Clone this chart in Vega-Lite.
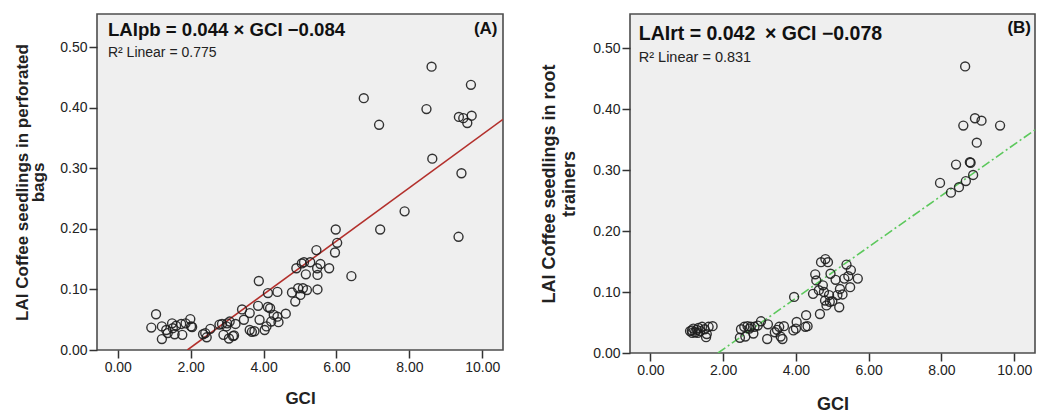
{
  "$schema": "https://vega.github.io/schema/vega-lite/v6.json",
  "background": "white",
  "padding": {"left": 12, "top": 13, "right": 5, "bottom": 2},
  "bounds": "flush",
  "spacing": 127,
  "datasets": {
    "A": [
      {"gci": 0.92, "lai": 0.037}, {"gci": 1.05, "lai": 0.059}, {"gci": 1.21, "lai": 0.039}, {"gci": 1.21, "lai": 0.018},
      {"gci": 1.33, "lai": 0.033}, {"gci": 1.37, "lai": 0.028}, {"gci": 1.49, "lai": 0.044}, {"gci": 1.51, "lai": 0.036},
      {"gci": 1.56, "lai": 0.026}, {"gci": 1.6, "lai": 0.04}, {"gci": 1.74, "lai": 0.043}, {"gci": 1.77, "lai": 0.025},
      {"gci": 1.86, "lai": 0.044}, {"gci": 1.99, "lai": 0.051}, {"gci": 2.01, "lai": 0.039}, {"gci": 2.04, "lai": 0.038},
      {"gci": 2.34, "lai": 0.026}, {"gci": 2.4, "lai": 0.028}, {"gci": 2.44, "lai": 0.021}, {"gci": 2.54, "lai": 0.035},
      {"gci": 2.79, "lai": 0.042}, {"gci": 2.86, "lai": 0.043}, {"gci": 2.9, "lai": 0.025}, {"gci": 2.98, "lai": 0.039},
      {"gci": 3.0, "lai": 0.044}, {"gci": 3.05, "lai": 0.019}, {"gci": 3.07, "lai": 0.047}, {"gci": 3.16, "lai": 0.023},
      {"gci": 3.19, "lai": 0.024}, {"gci": 3.23, "lai": 0.043}, {"gci": 3.41, "lai": 0.067}, {"gci": 3.46, "lai": 0.05},
      {"gci": 3.62, "lai": 0.061}, {"gci": 3.62, "lai": 0.033}, {"gci": 3.68, "lai": 0.03}, {"gci": 3.75, "lai": 0.031},
      {"gci": 3.85, "lai": 0.073}, {"gci": 3.87, "lai": 0.114}, {"gci": 3.89, "lai": 0.05}, {"gci": 4.03, "lai": 0.033},
      {"gci": 4.08, "lai": 0.039}, {"gci": 4.12, "lai": 0.094}, {"gci": 4.12, "lai": 0.071}, {"gci": 4.18, "lai": 0.069},
      {"gci": 4.21, "lai": 0.047}, {"gci": 4.28, "lai": 0.058}, {"gci": 4.38, "lai": 0.096}, {"gci": 4.38, "lai": 0.055},
      {"gci": 4.41, "lai": 0.046}, {"gci": 4.61, "lai": 0.06}, {"gci": 4.78, "lai": 0.095}, {"gci": 4.87, "lai": 0.08},
      {"gci": 4.9, "lai": 0.135}, {"gci": 4.95, "lai": 0.102}, {"gci": 5.01, "lai": 0.091}, {"gci": 5.05, "lai": 0.143},
      {"gci": 5.08, "lai": 0.102}, {"gci": 5.11, "lai": 0.145}, {"gci": 5.16, "lai": 0.125}, {"gci": 5.19, "lai": 0.099},
      {"gci": 5.28, "lai": 0.145}, {"gci": 5.45, "lai": 0.165}, {"gci": 5.47, "lai": 0.135}, {"gci": 5.48, "lai": 0.124},
      {"gci": 5.48, "lai": 0.1}, {"gci": 5.56, "lai": 0.142}, {"gci": 5.8, "lai": 0.135}, {"gci": 5.96, "lai": 0.161},
      {"gci": 5.98, "lai": 0.199}, {"gci": 6.02, "lai": 0.177}, {"gci": 6.41, "lai": 0.122}, {"gci": 7.2, "lai": 0.199},
      {"gci": 7.87, "lai": 0.229}, {"gci": 9.35, "lai": 0.187}, {"gci": 6.75, "lai": 0.416}, {"gci": 7.17, "lai": 0.372},
      {"gci": 8.47, "lai": 0.398}, {"gci": 8.61, "lai": 0.468}, {"gci": 8.63, "lai": 0.316}, {"gci": 9.43, "lai": 0.292},
      {"gci": 9.36, "lai": 0.385}, {"gci": 9.48, "lai": 0.383}, {"gci": 9.59, "lai": 0.375}, {"gci": 9.71, "lai": 0.387},
      {"gci": 9.69, "lai": 0.438}
    ],
    "B": [
      {"gci": 1.09, "lai": 0.036}, {"gci": 1.14, "lai": 0.037}, {"gci": 1.15, "lai": 0.033}, {"gci": 1.18, "lai": 0.04},
      {"gci": 1.23, "lai": 0.034}, {"gci": 1.28, "lai": 0.038}, {"gci": 1.3, "lai": 0.033}, {"gci": 1.32, "lai": 0.041},
      {"gci": 1.37, "lai": 0.036}, {"gci": 1.42, "lai": 0.043}, {"gci": 1.49, "lai": 0.039}, {"gci": 1.53, "lai": 0.026},
      {"gci": 1.55, "lai": 0.031}, {"gci": 1.6, "lai": 0.043}, {"gci": 1.71, "lai": 0.044},
      {"gci": 2.46, "lai": 0.025}, {"gci": 2.49, "lai": 0.039}, {"gci": 2.58, "lai": 0.043}, {"gci": 2.61, "lai": 0.027},
      {"gci": 2.67, "lai": 0.044}, {"gci": 2.72, "lai": 0.04}, {"gci": 2.76, "lai": 0.043}, {"gci": 2.83, "lai": 0.032},
      {"gci": 2.86, "lai": 0.043}, {"gci": 2.95, "lai": 0.045}, {"gci": 3.04, "lai": 0.052}, {"gci": 3.23, "lai": 0.047},
      {"gci": 3.21, "lai": 0.023}, {"gci": 3.42, "lai": 0.034}, {"gci": 3.48, "lai": 0.038}, {"gci": 3.54, "lai": 0.043},
      {"gci": 3.58, "lai": 0.027}, {"gci": 3.63, "lai": 0.023}, {"gci": 3.67, "lai": 0.044}, {"gci": 3.93, "lai": 0.037},
      {"gci": 4.0, "lai": 0.04}, {"gci": 3.95, "lai": 0.092}, {"gci": 4.02, "lai": 0.051}, {"gci": 4.26, "lai": 0.043},
      {"gci": 4.28, "lai": 0.062}, {"gci": 4.32, "lai": 0.044}, {"gci": 4.66, "lai": 0.064}, {"gci": 4.47, "lai": 0.097},
      {"gci": 4.53, "lai": 0.129}, {"gci": 4.56, "lai": 0.119}, {"gci": 4.63, "lai": 0.103}, {"gci": 4.69, "lai": 0.149},
      {"gci": 4.74, "lai": 0.111}, {"gci": 4.77, "lai": 0.1}, {"gci": 4.8, "lai": 0.086}, {"gci": 4.81, "lai": 0.154},
      {"gci": 4.84, "lai": 0.078}, {"gci": 4.88, "lai": 0.149}, {"gci": 4.91, "lai": 0.095}, {"gci": 4.93, "lai": 0.084},
      {"gci": 4.95, "lai": 0.13}, {"gci": 5.0, "lai": 0.085}, {"gci": 5.09, "lai": 0.12}, {"gci": 5.14, "lai": 0.095},
      {"gci": 5.19, "lai": 0.075}, {"gci": 5.21, "lai": 0.105}, {"gci": 5.28, "lai": 0.096}, {"gci": 5.39, "lai": 0.145},
      {"gci": 5.44, "lai": 0.126}, {"gci": 5.49, "lai": 0.108}, {"gci": 5.51, "lai": 0.136}, {"gci": 5.7, "lai": 0.122},
      {"gci": 5.33, "lai": 0.122},
      {"gci": 8.65, "lai": 0.47}, {"gci": 8.6, "lai": 0.373}, {"gci": 8.92, "lai": 0.385}, {"gci": 9.1, "lai": 0.381},
      {"gci": 9.61, "lai": 0.373}, {"gci": 8.97, "lai": 0.345}, {"gci": 8.78, "lai": 0.313}, {"gci": 8.8, "lai": 0.312},
      {"gci": 8.4, "lai": 0.309}, {"gci": 8.87, "lai": 0.292}, {"gci": 8.67, "lai": 0.282}, {"gci": 7.96, "lai": 0.279},
      {"gci": 8.48, "lai": 0.272}, {"gci": 8.26, "lai": 0.263}
    ],
    "lineA": [{"gci": 1.91, "lai": 0.0}, {"gci": 10.57, "lai": 0.381}],
    "lineB": [{"gci": 1.857, "lai": 0.0}, {"gci": 10.57, "lai": 0.366}],
    "labelsA": [{"eq": "LAIpb = 0.044 × GCI −0.084", "r2": "R² Linear = 0.775", "tag": "(A)"}],
    "labelsB": [{"eq": "LAIrt = 0.042\u2002× GCI −0.078", "r2": "R² Linear = 0.831", "tag": "(B)"}]
  },
  "hconcat": [
    {
      "width": 406,
      "height": 336,
      "layer": [
        {"data": {"name": "lineA"}, "mark": {"type": "line", "color": "#b3302c", "strokeWidth": 1.6, "clip": true},
         "encoding": {
           "x": {"field": "gci", "type": "quantitative", "scale": {"domain": [-0.57, 10.57], "nice": false, "zero": false},
                 "axis": {"title": "GCI", "values": [0, 2, 4, 6, 8, 10], "format": ".2f", "titlePadding": 16}},
           "y": {"field": "lai", "type": "quantitative", "scale": {"domain": [0, 0.555], "nice": false},
                 "axis": {"title": ["LAI Coffee seedlings in perforated", "bags"], "values": [0, 0.1, 0.2, 0.3, 0.4, 0.5], "format": ".2f", "titlePadding": 12, "titleLineHeight": 16}}
         }},
        {"data": {"name": "A"}, "mark": {"type": "point", "shape": "circle", "filled": false, "stroke": "#1e1e1e", "strokeWidth": 1.4, "size": 80, "opacity": 0.9},
         "encoding": {"x": {"field": "gci", "type": "quantitative"}, "y": {"field": "lai", "type": "quantitative"}}},
        {"data": {"name": "labelsA"}, "mark": {"type": "text", "align": "left", "baseline": "alphabetic", "fontSize": 18.6, "fontWeight": "bold", "color": "#111"},
         "encoding": {"x": {"datum": -0.27, "type": "quantitative"}, "y": {"datum": 0.519, "type": "quantitative"}, "text": {"field": "eq", "type": "nominal"}}},
        {"data": {"name": "labelsA"}, "mark": {"type": "text", "align": "left", "baseline": "alphabetic", "fontSize": 14, "color": "#222"},
         "encoding": {"x": {"datum": -0.27, "type": "quantitative"}, "y": {"datum": 0.484, "type": "quantitative"}, "text": {"field": "r2", "type": "nominal"}}},
        {"data": {"name": "labelsA"}, "mark": {"type": "text", "align": "right", "baseline": "alphabetic", "fontSize": 17, "fontWeight": "bold", "color": "#111"},
         "encoding": {"x": {"datum": 10.42, "type": "quantitative"}, "y": {"datum": 0.522, "type": "quantitative"}, "text": {"field": "tag", "type": "nominal"}}}
      ]
    },
    {
      "width": 405,
      "height": 339,
      "layer": [
        {"data": {"name": "lineB"}, "mark": {"type": "line", "color": "#5cc85c", "strokeWidth": 1.6, "strokeDash": [9, 3, 2, 3], "clip": true},
         "encoding": {
           "x": {"field": "gci", "type": "quantitative", "scale": {"domain": [-0.56, 10.57], "nice": false, "zero": false},
                 "axis": {"title": "GCI", "values": [0, 2, 4, 6, 8, 10], "format": ".2f", "titlePadding": 18, "titleFontSize": 18}},
           "y": {"field": "lai", "type": "quantitative", "scale": {"domain": [0, 0.556], "nice": false},
                 "axis": {"title": ["LAI Coffee seedlings in root", "trainers"], "values": [0, 0.1, 0.2, 0.3, 0.4, 0.5], "format": ".2f", "titlePadding": 14, "titleLineHeight": 20, "titleFontSize": 18}}
         }},
        {"data": {"name": "B"}, "mark": {"type": "point", "shape": "circle", "filled": false, "stroke": "#1e1e1e", "strokeWidth": 1.4, "size": 80, "opacity": 0.9},
         "encoding": {"x": {"field": "gci", "type": "quantitative"}, "y": {"field": "lai", "type": "quantitative"}}},
        {"data": {"name": "labelsB"}, "mark": {"type": "text", "align": "left", "baseline": "alphabetic", "fontSize": 19.5, "fontWeight": "bold", "color": "#111"},
         "encoding": {"x": {"datum": -0.32, "type": "quantitative"}, "y": {"datum": 0.513, "type": "quantitative"}, "text": {"field": "eq", "type": "nominal"}}},
        {"data": {"name": "labelsB"}, "mark": {"type": "text", "align": "left", "baseline": "alphabetic", "fontSize": 14.5, "color": "#222"},
         "encoding": {"x": {"datum": -0.32, "type": "quantitative"}, "y": {"datum": 0.477, "type": "quantitative"}, "text": {"field": "r2", "type": "nominal"}}},
        {"data": {"name": "labelsB"}, "mark": {"type": "text", "align": "right", "baseline": "alphabetic", "fontSize": 17, "fontWeight": "bold", "color": "#111"},
         "encoding": {"x": {"datum": 10.46, "type": "quantitative"}, "y": {"datum": 0.525, "type": "quantitative"}, "text": {"field": "tag", "type": "nominal"}}}
      ]
    }
  ],
  "config": {
    "font": "Liberation Sans",
    "view": {"fill": "#efefef", "stroke": "#4d4d4d", "strokeWidth": 1.6},
    "axis": {
      "grid": false,
      "domain": false,
      "tickSize": 8,
      "tickColor": "#333",
      "tickWidth": 1.5,
      "labelFontSize": 14,
      "labelColor": "#222",
      "labelPadding": 2,
      "titleFontSize": 17,
      "titleFontWeight": "bold",
      "titleColor": "#222",
      "labelFont": "Liberation Sans",
      "titleFont": "Liberation Sans"
    }
  }
}
